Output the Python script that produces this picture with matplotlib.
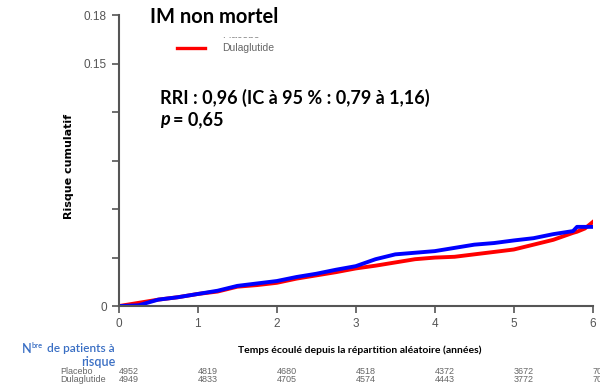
import numpy as np
import matplotlib.pyplot as plt

# data
years = [0, 0.25, 0.5, 0.75, 1.0, 1.25, 1.5, 1.75, 2.0, 2.25, 2.5, 2.75, 3.0,
         3.25, 3.5, 3.75, 4.0, 4.25, 4.5, 4.75, 5.0, 5.25, 5.5, 5.75, 5.8, 5.9, 6.0]
placebo = [0, 0.0005, 0.004, 0.0055, 0.0075, 0.0095, 0.0125, 0.014, 0.0155, 0.018,
           0.020, 0.0225, 0.0247, 0.029, 0.032, 0.033, 0.034, 0.036, 0.038, 0.039,
           0.0406, 0.042, 0.0445, 0.0464, 0.049, 0.049, 0.049]
dula = [0, 0.002, 0.004, 0.0055, 0.0075, 0.009, 0.012, 0.013, 0.0144, 0.017,
        0.019, 0.021, 0.0233, 0.025, 0.027, 0.029, 0.030, 0.0305, 0.032, 0.0335,
        0.035, 0.038, 0.041, 0.0453, 0.046, 0.048, 0.052]

yticks = [0, 0.03, 0.06, 0.09, 0.12, 0.15, 0.18]
ytick_labels = ['0', '', '', '', '', '0.15', '0.18']
risk_years = [0, 1, 2, 3, 4, 5, 6]
risk_placebo = [4952, 4819, 4680, 4518, 4372, 3672, 706]
risk_dula = [4949, 4833, 4705, 4574, 4443, 3772, 709]

fig = plt.figure(figsize=(6, 3.86), dpi=100)
ax = fig.add_axes([0.198, 0.207, 0.79, 0.754])

ax.plot(years, dula, color='#ff0000', lw=2.8)
ax.plot(years, placebo, color='#0000ff', lw=2.8)

ax.set_xlim(0, 6)
ax.set_ylim(0, 0.18)
ax.set_xticks(risk_years)
ax.set_yticks(yticks)
ax.set_yticklabels(ytick_labels)
for s in ['top', 'right']:
    ax.spines[s].set_visible(False)
for s in ['left', 'bottom']:
    ax.spines[s].set_color('#555555')
    ax.spines[s].set_linewidth(1.5)
ax.tick_params(colors='#555555', labelcolor='#555555', labelsize=8.5, length=5, width=1.2)
for lab in ax.get_xticklabels() + ax.get_yticklabels():
    lab.set_family('Liberation Sans')

ax.set_ylabel('Risque cumulatif', fontsize=8, fontweight='bold', family='DejaVu Sans', labelpad=2)
ax.yaxis.set_label_coords(-0.095, 0.48)

# titles and annotations
fig.text(150 / 600, 1 - 17 / 386, 'IM non mortel', fontsize=14.5, fontweight='bold',
         family='Lato', va='center', ha='left')
fig.text(222 / 600, 1 - 35 / 386, 'Placebo', fontsize=7.5, color='#666666',
         family='Liberation Sans', va='center')
fig.patches.append(plt.Rectangle((150 / 600, 1 - 36 / 386), 0.4, 0.02,
                                 transform=fig.transFigure, color='white', zorder=5))
fig.add_artist(plt.Line2D([177 / 600, 205 / 600], [1 - 48 / 386] * 2, color='#ff0000', lw=2.4))
fig.text(222 / 600, 1 - 48 / 386, 'Dulaglutide', fontsize=7.5, color='#666666',
         family='Liberation Sans', va='center')

fig.text(160 / 600, 1 - 98 / 386, 'RRI : 0,96 (IC à 95 % : 0,79 à 1,16)', fontsize=13,
         fontweight='bold', family='Lato', va='center')
fig.text(160 / 600, 1 - 120 / 386, 'p', fontsize=13, fontweight='bold',
         style='italic', family='Lato', va='center')
fig.text(173 / 600, 1 - 120 / 386, '= 0,65', fontsize=13, fontweight='bold',
         family='Lato', va='center')

fig.text(360 / 600, 1 - 350 / 386, 'Temps écoulé depuis la répartition aléatoire (années)',
         fontsize=7.5, fontweight='bold', family='Lato', ha='center', va='center')
fig.text(22 / 600, 1 - 349 / 386, 'N', fontsize=9, color='#3a6fc4', fontweight='semibold',
         family='Lato', ha='left', va='center')
fig.text(31 / 600, 1 - 346 / 386, 'bre', fontsize=5.5, color='#3a6fc4', fontweight='semibold',
         family='Lato', ha='left', va='center')
fig.text(115 / 600, 1 - 349 / 386, 'de patients à', fontsize=8.6, color='#3a6fc4',
         fontweight='semibold', family='Lato', ha='right', va='center')
fig.text(115 / 600, 1 - 362 / 386, 'risque', fontsize=9, color='#3a6fc4',
         fontweight='semibold', family='Lato', ha='right', va='center')

# number at risk table
fig.text(60 / 600, 1 - 371 / 386, 'Placebo', fontsize=6.5, color='#666666',
         family='Liberation Sans', va='center')
fig.text(60 / 600, 1 - 380 / 386, 'Dulaglutide', fontsize=6.5, color='#666666',
         family='Liberation Sans', va='center')
for t, a, b in zip(risk_years, risk_placebo, risk_dula):
    xf = fig.transFigure.inverted().transform(ax.transData.transform((t, 0)))[0]
    fig.text(xf, 1 - 371 / 386, str(a), fontsize=6.5, color='#666666',
             family='Liberation Sans', va='center')
    fig.text(xf, 1 - 380 / 386, str(b), fontsize=6.5, color='#666666',
             family='Liberation Sans', va='center')

fig.savefig('out.png', dpi=100)
